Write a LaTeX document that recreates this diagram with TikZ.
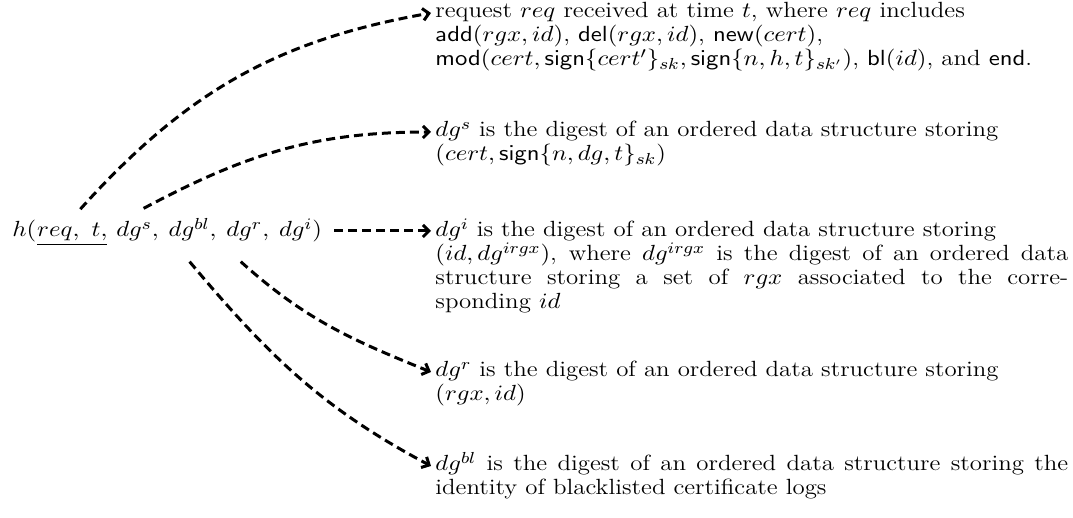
\documentclass[tikz,border=0pt]{standalone}
\usepackage{amsmath,amssymb}
\usepackage{tikz}
\usetikzlibrary{arrows.meta,positioning,calc}

\begin{document}
\begin{tikzpicture}[
      txt/.style={font=\fontsize{11pt}{12pt}\selectfont,xscale=1.13},
      part/.style={txt,inner sep=0pt,anchor=base west},
      desc/.style={txt,inner sep=0pt,anchor=base west,text width=280pt,align=justify},
      arr/.style={-{Straight Barb[length=3pt,width=6pt]},line width=1.5pt,
                  dash pattern=on 4.5pt off 2.5pt},
    ]
    \useasboundingbox (0,0) rectangle (536.5pt,-259pt);

    % hash value
    \node[part] (hfun) at (6pt,-118.5pt) {$h($};
    \node[part] (reqt) at (hfun.base east) {$\underline{req,\ t,}$};
    \node[part] (dgs) at ([xshift=4pt]reqt.base east) {$dg^s,$};
    \node[part] (dgbl) at ([xshift=4.5pt]dgs.base east) {$dg^{bl},$};
    \node[part] (dgr) at ([xshift=4.5pt]dgbl.base east) {$dg^r,$};
    \node[part] (dgi) at ([xshift=4.5pt]dgr.base east) {$dg^i)$};

    % descriptions
    \node[desc] (reqd) at (217.5pt,-9pt) {request $req$ received at time $t$, where $req$ includes\\
      $\mathsf{add}(rgx, id)$, $\mathsf{del}(rgx, id)$, $\mathsf{new}(cert)$,\\
      $\mathsf{mod}(cert, \mathsf{sign}\{cert'\}_{sk}, \mathsf{sign}\{n, h, t\}_{sk'})$, $\mathsf{bl}(id)$, and $\mathsf{end}$.};
    \node[desc] (dgsd) at (217.5pt,-68.5pt) {$dg^s$ is the digest of an ordered data structure storing\\
      $(cert, \mathsf{sign}\{n, dg, t\}_{sk})$};
    \node[desc] (dgid) at (217.5pt,-118.5pt) {$dg^i$ is the digest of an ordered data structure storing\\
      $(id, dg^{irgx})$, where $dg^{irgx}$ is the digest of an ordered data\linebreak
      structure storing a set of $rgx$ associated to the corre-\linebreak
      sponding $id$};
    \node[desc] (dgrd) at (217.5pt,-188.5pt) {$dg^r$ is the digest of an ordered data structure storing\\
      $(rgx, id)$};
    \node[desc] (dgbld) at (217.5pt,-235.5pt) {$dg^{bl}$ is the digest of an ordered data structure storing the
      identity of blacklisted certificate logs};

    % dashed links
    \draw[arr] ([xshift=4pt,yshift=7pt]reqt.north) to[out=48,in=190]
          ([xshift=-2pt,yshift=2.5pt]reqd.base west);
    \draw[arr] ([xshift=3pt,yshift=6.5pt]dgs.north) to[out=28,in=180]
          ([xshift=-2pt,yshift=2.5pt]dgsd.base west);
    \draw[arr] ([xshift=6pt,yshift=3pt]dgi.base east) --
          ([xshift=-2pt,yshift=3pt]dgid.base west);
    \draw[arr] ([xshift=-3.5pt,yshift=-10pt]dgr.south) to[out=-42,in=158]
          ([xshift=-2pt,yshift=2.5pt]dgrd.base west);
    \draw[arr] ([xshift=-1.5pt,yshift=-10pt]dgbl.south) to[out=-50,in=152]
          ([xshift=-2pt,yshift=2.5pt]dgbld.base west);
  \end{tikzpicture}
\end{document}
